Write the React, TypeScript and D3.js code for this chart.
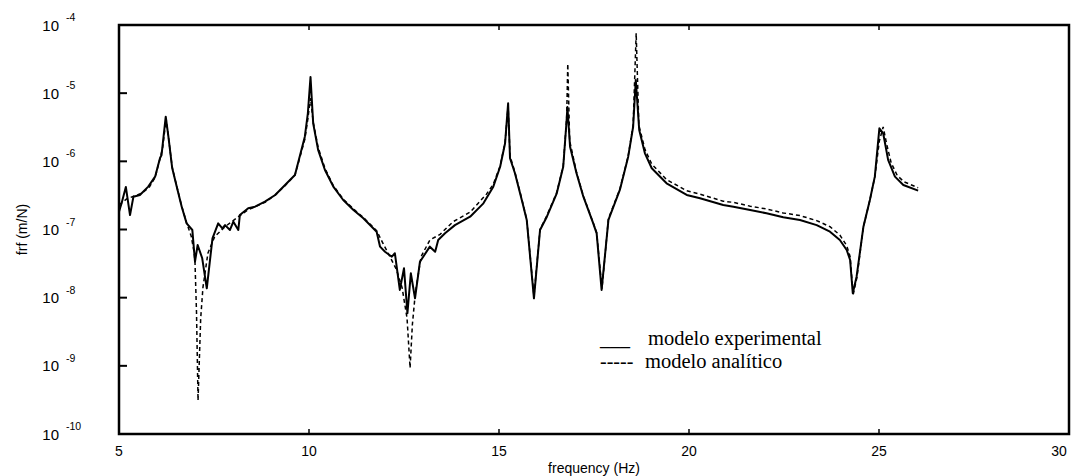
import React from "react";
import * as d3 from "d3";

// ---- data ----
const expFreq = [5.0, 5.07, 5.18, 5.29, 5.38, 5.55, 5.77, 5.95, 6.08, 6.12, 6.23, 6.3, 6.4, 6.52, 6.65, 6.78, 6.93, 7.0, 7.07, 7.19, 7.31, 7.46, 7.61, 7.72, 7.79, 7.92, 8.01, 8.14, 8.18, 8.4, 8.58, 8.84, 9.11, 9.37, 9.63, 9.72, 9.89, 9.97, 10.04, 10.11, 10.24, 10.42, 10.64, 10.9, 11.17, 11.43, 11.78, 11.87, 12.0, 12.18, 12.26, 12.39, 12.5, 12.59, 12.68, 12.79, 12.92, 13.18, 13.32, 13.4, 13.58, 13.84, 14.24, 14.59, 14.85, 15.03, 15.16, 15.24, 15.29, 15.42, 15.6, 15.73, 15.92, 16.08, 16.26, 16.52, 16.69, 16.78, 16.8, 16.87, 17.04, 17.22, 17.48, 17.57, 17.7, 17.88, 18.18, 18.4, 18.53, 18.6, 18.69, 18.84, 19.02, 19.41, 19.94, 20.29, 20.9, 21.17, 21.61, 22.04, 22.48, 22.92, 23.36, 23.71, 23.97, 24.15, 24.24, 24.31, 24.41, 24.59, 24.76, 24.89, 25.01, 25.11, 25.24, 25.42, 25.64, 26.03];
const expFrf = [1.82e-7, 2.45e-7, 4.21e-7, 1.63e-7, 3.03e-7, 3.21e-7, 4.25e-7, 5.96e-7, 1.12e-6, 1.24e-6, 4.52e-6, 2.3e-6, 7.98e-7, 4.25e-7, 2.16e-7, 1.23e-7, 9.84e-8, 3.37e-8, 5.93e-8, 3.78e-8, 1.37e-8, 7.43e-8, 1.23e-7, 1.04e-7, 1.16e-7, 9.84e-8, 1.3e-7, 9.84e-8, 1.63e-7, 2.05e-7, 2.16e-7, 2.56e-7, 3.21e-7, 4.5e-7, 6.31e-7, 9.89e-7, 2.3e-6, 5.07e-6, 1.73e-5, 3.61e-6, 1.47e-6, 7.46e-7, 4.25e-7, 2.71e-7, 1.93e-7, 1.46e-7, 9.29e-8, 5.6e-8, 4.72e-8, 3.99e-8, 4.48e-8, 1.3e-8, 2.7e-8, 5.9e-9, 2.28e-8, 9.79e-9, 3.37e-8, 5.6e-8, 4.72e-8, 7.02e-8, 8.79e-8, 1.16e-7, 1.54e-7, 2.42e-7, 4.25e-7, 8.34e-7, 1.84e-6, 7.1e-6, 1.11e-6, 6.68e-7, 2.71e-7, 1.38e-7, 9.79e-9, 9.84e-8, 1.54e-7, 3.4e-7, 8.34e-7, 4.04e-6, 6.27e-6, 1.64e-6, 6.68e-7, 3.03e-7, 1.23e-7, 8.79e-8, 1.3e-8, 1.38e-7, 3.8e-7, 1.17e-6, 3.22e-6, 1.56e-5, 2.88e-6, 1.31e-6, 7.91e-7, 4.76e-7, 3.21e-7, 2.87e-7, 2.29e-7, 2.16e-7, 1.93e-7, 1.73e-7, 1.51e-7, 1.38e-7, 1.16e-7, 9.29e-8, 7.02e-8, 5.0e-8, 3.57e-8, 1.16e-8, 2.03e-8, 1.1e-7, 2.71e-7, 5.96e-7, 3.05e-6, 2.58e-6, 1.05e-6, 5.96e-7, 4.5e-7, 3.71e-7];

const anaFreq = [5.0, 5.2, 5.4, 5.6, 5.8, 5.95, 6.08, 6.15, 6.24, 6.3, 6.4, 6.52, 6.65, 6.78, 6.9, 6.98, 7.0, 7.04, 7.08, 7.15, 7.21, 7.34, 7.52, 7.79, 8.14, 8.4, 8.84, 9.11, 9.37, 9.63, 9.72, 9.89, 9.97, 10.04, 10.11, 10.24, 10.42, 10.64, 10.9, 11.17, 11.43, 11.78, 11.95, 12.1, 12.3, 12.45, 12.58, 12.66, 12.72, 12.8, 12.95, 13.18, 13.45, 13.79, 14.24, 14.67, 14.85, 15.03, 15.16, 15.24, 15.29, 15.42, 15.6, 15.73, 15.92, 16.08, 16.26, 16.52, 16.69, 16.78, 16.81, 16.86, 17.04, 17.22, 17.48, 17.57, 17.71, 17.88, 18.18, 18.4, 18.53, 18.61, 18.68, 18.84, 19.02, 19.41, 19.94, 20.29, 20.9, 21.17, 21.61, 22.04, 22.48, 22.92, 23.36, 23.71, 23.97, 24.15, 24.24, 24.32, 24.42, 24.59, 24.76, 24.89, 25.01, 25.11, 25.2, 25.32, 25.48, 25.66, 26.03];
const anaFrf = [2.3e-7, 2.8e-7, 3.1e-7, 3.4e-7, 4.2e-7, 5.8e-7, 1.1e-6, 1.6e-6, 4.2e-6, 2.3e-6, 8.2e-7, 4.3e-7, 2.2e-7, 1.25e-7, 8.0e-8, 4.5e-8, 3.3e-8, 6e-9, 3.1e-10, 5e-9, 1.43e-8, 4.5e-8, 7.9e-8, 1.1e-7, 1.54e-7, 1.95e-7, 2.5e-7, 3.2e-7, 4.4e-7, 6.3e-7, 9.5e-7, 2.1e-6, 4.2e-6, 8.5e-6, 3.8e-6, 1.6e-6, 7.9e-7, 4.4e-7, 2.8e-7, 2.0e-7, 1.5e-7, 9.6e-8, 6.2e-8, 4.3e-8, 2.6e-8, 1.4e-8, 5e-9, 9.3e-10, 4e-9, 1.2e-8, 4e-8, 7e-8, 8.5e-8, 1.3e-7, 1.8e-7, 3.3e-7, 4.6e-7, 8.6e-7, 1.9e-6, 6.5e-6, 1.2e-6, 6.9e-7, 2.8e-7, 1.4e-7, 1.05e-8, 1.0e-7, 1.6e-7, 3.5e-7, 8.6e-7, 4.2e-6, 2.7e-5, 2.0e-6, 6.9e-7, 3.1e-7, 1.25e-7, 9e-8, 1.35e-8, 1.45e-7, 3.9e-7, 1.2e-6, 3.4e-6, 7.6e-5, 3.4e-6, 1.5e-6, 9.1e-7, 5.4e-7, 3.7e-7, 3.3e-7, 2.6e-7, 2.5e-7, 2.2e-7, 2.0e-7, 1.75e-7, 1.6e-7, 1.35e-7, 1.1e-7, 8.3e-8, 5.8e-8, 4e-8, 1.1e-8, 2.0e-8, 1.1e-7, 2.7e-7, 5.9e-7, 2.0e-6, 3.2e-6, 1.8e-6, 9.5e-7, 6.2e-7, 5.0e-7, 4.1e-7];

const xTicks = [5, 10, 15, 20, 25, 30];
const yExponents = [-4, -5, -6, -7, -8, -9, -10];
const xTitle = "frequency (Hz)";
const yTitle = "frf (m/N)";
const legendItems = [
  { mark: "___", label: "modelo experimental" },
  { mark: "-----", label: "modelo analítico" },
];

export default function App() {
  const W = 1072, H = 476;
  const L = 119, R = 1069, T = 25, B = 434;
  const x = d3.scaleLinear().domain([5, 30]).range([L, R]);
  const y = d3.scaleLog().domain([1e-10, 1e-4]).range([B, T]);
  const line = d3.line<[number, number]>().x(d => x(d[0])).y(d => y(d[1]));
  const expPts = expFreq.map((f, i) => [f, expFrf[i]] as [number, number]);
  const anaPts = anaFreq.map((f, i) => [f, anaFrf[i]] as [number, number]);
  const sans = "Arial, 'Liberation Sans', sans-serif";
  const serif = "'Times New Roman', 'Liberation Serif', serif";

  return (
    <svg width={W} height={H} style={{ position: "absolute", left: 0, top: 0, background: "#fff" }}>
      <rect x={0} y={0} width={W} height={H} fill="#fff" />
      {/* data */}
      <path d={line(anaPts) || ""} fill="none" stroke="#000" strokeWidth={1.5} strokeDasharray="4,3" />
      <path d={line(expPts) || ""} fill="none" stroke="#000" strokeWidth={2} strokeLinejoin="round" />
      {/* frame */}
      <rect x={L} y={T} width={R - L} height={B - T} fill="none" stroke="#000" strokeWidth={2.5} />
      {/* y ticks */}
      {yExponents.map(e => {
        const yy = y(Math.pow(10, e));
        return (
          <g key={e}>
            {e !== -4 && e !== -10 && <line x1={L} x2={L + 8} y1={yy} y2={yy} stroke="#000" strokeWidth={2} />}
            <text x={59} y={yy + 5.5} textAnchor="end" fontFamily={sans} fontSize={15}>10</text>
            <text x={66} y={yy - 4} textAnchor="start" fontFamily={sans} fontSize={10.5}>{String(e)}</text>
          </g>
        );
      })}
      {/* x ticks */}
      {xTicks.map(t => (
        <g key={t}>
          {t !== 5 && t !== 30 && (
            <>
              <line x1={x(t)} x2={x(t)} y1={B} y2={B - 5} stroke="#000" strokeWidth={1.5} />
              <line x1={x(t)} x2={x(t)} y1={T} y2={T + 5} stroke="#000" strokeWidth={1.5} />
            </>
          )}
          <text x={Math.min(x(t), W - 13)} y={456} textAnchor="middle" fontFamily={sans} fontSize={14}>{t}</text>
        </g>
      ))}
      <text x={(L + R) / 2} y={473} textAnchor="middle" fontFamily={sans} fontSize={14}>{xTitle}</text>
      <text transform={`translate(27,${(T + B) / 2}) rotate(-90)`} textAnchor="middle" fontFamily={sans} fontSize={14}>{yTitle}</text>
      {/* legend */}
      {legendItems.map((it, i) => (
        <g key={it.label}>
          <text x={600} y={345 + i * 22.5} fontFamily={serif} fontSize={20}>{it.mark}</text>
          <text x={i === 0 ? 648 : 645} y={345 + i * 22.5} fontFamily={serif} fontSize={20.5}>{it.label}</text>
        </g>
      ))}
    </svg>
  );
}
